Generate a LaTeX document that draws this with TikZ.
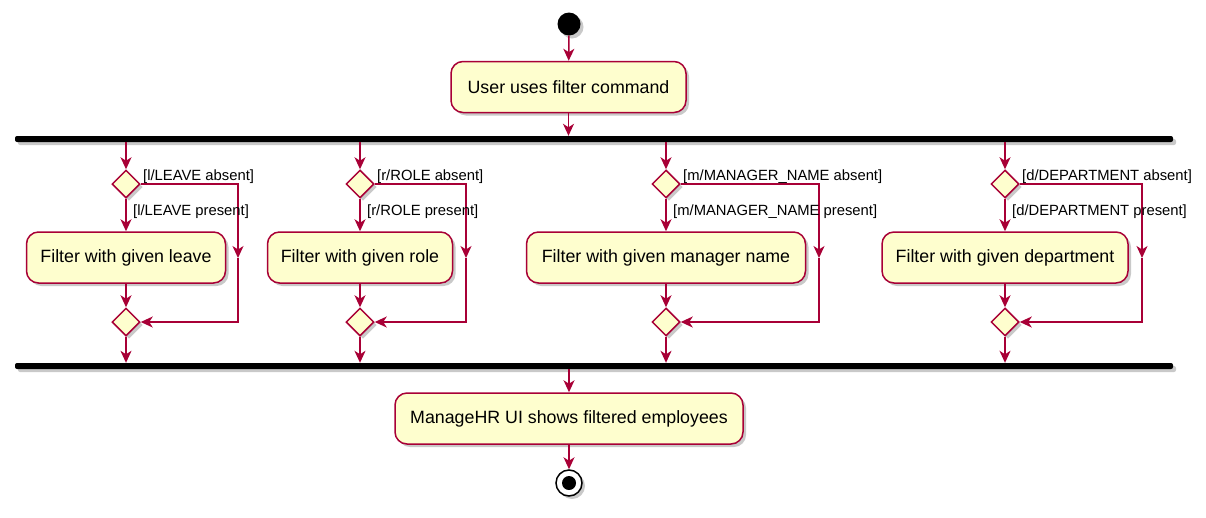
\documentclass[tikz,border=0pt]{standalone}
\usepackage{fontspec}
\setmainfont{Liberation Sans}
\usetikzlibrary{arrows.meta,shapes.geometric,shadows}
\definecolor{pborder}{HTML}{A80036}
\definecolor{pfill}{HTML}{FEFECE}
\newcommand\lanegroup[6]{%
  \node[dec] (d#1) at (#2,184) {};
  \node[act,minimum width=#3pt] (b#1) at (#2,257.5) {#5};
  \node[dec] (m#1) at (#2,322) {};
  \coordinate (r#1) at (#4,258);
  \draw[flow] (d#1.north |- fork.south) -- (d#1);
  \draw[flow] (d#1) -- (b#1);
  \draw[flow] (b#1) -- (m#1);
  \draw[flow] (d#1.east) -| (r#1);
  \draw[flow] (r#1) |- (m#1.east);
  \draw[flow] (m#1) -- (m#1.south |- join.north);
  \node[lbl] (la#1) at (#2+17,177) {[#6 absent]};
  \node[lbl] (lp#1) at (#2+7,211.5) {[#6 present]};
}
\begin{document}
\begin{tikzpicture}[x=1pt,y=-1pt,
  shd/.style={drop shadow={shadow xshift=3pt,shadow yshift=-3pt,opacity=0.3,fill=black!70}},
  act/.style={draw=pborder,fill=pfill,line width=1.5pt,rounded corners=12pt,minimum height=51pt,inner sep=0pt,font=\fontsize{17.8}{20}\selectfont,shd},
  dec/.style={diamond,draw=pborder,fill=pfill,line width=1.5pt,minimum width=28pt,minimum height=28pt,inner sep=0pt,shd},
  bar/.style={rectangle,fill=black,draw=none,minimum height=6pt,inner sep=0pt,rounded corners=2pt,shd},
  flow/.style={draw=pborder,line width=1.5pt,-{Stealth[length=12pt,width=11pt,inset=3.5pt]}},
  lbl/.style={font=\fontsize{14.8}{16}\selectfont,inner sep=0pt,anchor=west}
]
\useasboundingbox (0,0) rectangle (1206,517);
\node[circle,fill=black,minimum size=23pt,inner sep=0pt,shd] (start) at (569,24) {};
\node[act,minimum width=235pt] (cmd) at (568.5,87) {User uses filter command};
\node[bar,minimum width=1158pt] (fork) at (594,139) {};
\node[bar,minimum width=1158pt] (join) at (594,366) {};
\draw[flow] (start) -- (cmd);
\draw[flow] (cmd) -- (cmd.south |- fork.north);
\lanegroup{1}{126}{199}{238}{Filter with given leave}{l/LEAVE}
\lanegroup{2}{360}{185}{466}{Filter with given role}{r/ROLE}
\lanegroup{3}{666}{279}{819}{Filter with given manager name}{m/MANAGER\_NAME}
\lanegroup{4}{1005}{246}{1142}{Filter with given department}{d/DEPARTMENT}
\node[act,minimum width=348pt] (ui) at (569,418.5) {ManageHR UI shows filtered employees};
\draw[flow] (ui.north |- join.south) -- (ui);
\node[circle,draw=black,line width=1.5pt,fill=white,minimum size=26pt,inner sep=0pt,shd] (end) at (569,483) {};
\node[circle,fill=black,minimum size=14pt,inner sep=0pt] (endin) at (end) {};
\draw[flow] (ui) -- (end);
\end{tikzpicture}
\end{document}
